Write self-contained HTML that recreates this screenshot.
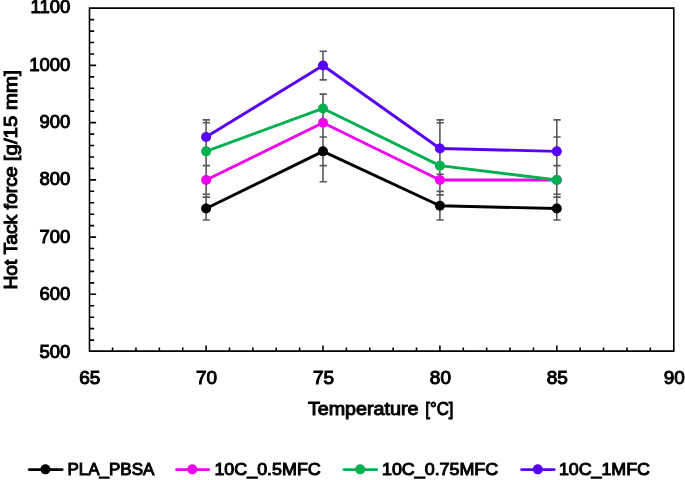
<!DOCTYPE html><html><head><meta charset="utf-8"><style>html,body{margin:0;padding:0;background:#fff;width:685px;height:480px;overflow:hidden}svg{display:block;will-change:transform}text{font-family:"Liberation Sans",sans-serif;font-weight:normal;fill:#000;stroke:#000;stroke-width:1.0px}</style></head><body>
<svg width="685" height="480" viewBox="0 0 685 480">
<rect width="685" height="480" fill="#fff"/>
<path d="M89.50 340.08H94.20M89.50 328.63H94.20M89.50 317.19H94.20M89.50 305.74H94.20M89.50 294.30H96.10M89.50 282.86H94.20M89.50 271.41H94.20M89.50 259.97H94.20M89.50 248.52H94.20M89.50 237.08H96.10M89.50 225.64H94.20M89.50 214.19H94.20M89.50 202.75H94.20M89.50 191.30H94.20M89.50 179.86H96.10M89.50 168.42H94.20M89.50 156.97H94.20M89.50 145.53H94.20M89.50 134.08H94.20M89.50 122.64H96.10M89.50 111.20H94.20M89.50 99.75H94.20M89.50 88.31H94.20M89.50 76.86H94.20M89.50 65.42H96.10M89.50 53.98H94.20M89.50 42.53H94.20M89.50 31.09H94.20M89.50 19.64H94.20M112.58 351.10V347.50M135.96 351.10V347.50M159.34 351.10V347.50M182.72 351.10V347.50M206.10 351.10V345.60M229.48 351.10V347.50M252.86 351.10V347.50M276.24 351.10V347.50M299.62 351.10V347.50M323.00 351.10V345.60M346.38 351.10V347.50M369.76 351.10V347.50M393.14 351.10V347.50M416.52 351.10V347.50M439.90 351.10V345.60M463.28 351.10V347.50M486.66 351.10V347.50M510.04 351.10V347.50M533.42 351.10V347.50M556.80 351.10V345.60M580.18 351.10V347.50M603.56 351.10V347.50M626.94 351.10V347.50M650.32 351.10V347.50" stroke="#000" stroke-width="1.6" fill="none"/>
<path d="M89.5 8.1H673.8V351.1H89.5Z" stroke="#000" stroke-width="1.6" fill="none" stroke-linejoin="miter"/>
<path d="M206.10 119.88V220.01M202.70 119.88H210.00M202.70 122.74H210.00M202.70 165.66H210.00M202.70 194.26H210.00M202.70 197.13H210.00M202.70 220.01H210.00M323.00 51.22V79.83M319.60 51.22H326.90M319.60 79.83H326.90M323.00 94.13V181.68M319.60 94.13H326.90M319.60 137.04H326.90M319.60 165.66H326.90M319.60 181.68H326.90M439.90 119.88V220.01M436.50 119.88H443.80M436.50 122.74H443.80M436.50 174.24H443.80M436.50 191.40H443.80M436.50 194.84H443.80M436.50 220.01H443.80M556.80 119.88V220.01M553.40 119.88H560.70M553.40 137.04H560.70M553.40 165.66H560.70M553.40 194.26H560.70M553.40 197.13H560.70M553.40 220.01H560.70" stroke="#595959" stroke-width="1.6" fill="none"/>
<polyline points="206.10,208.57 323.00,151.35 439.90,205.71 556.80,208.57" stroke="#000000" stroke-width="2.9" fill="none" stroke-linejoin="round"/>
<circle cx="206.10" cy="208.57" r="5.0" fill="#000000"/>
<circle cx="323.00" cy="151.35" r="5.0" fill="#000000"/>
<circle cx="439.90" cy="205.71" r="5.0" fill="#000000"/>
<circle cx="556.80" cy="208.57" r="5.0" fill="#000000"/>
<polyline points="206.10,179.96 323.00,122.74 439.90,179.96 556.80,179.96" stroke="#F000F0" stroke-width="2.9" fill="none" stroke-linejoin="round"/>
<circle cx="206.10" cy="179.96" r="5.0" fill="#F000F0"/>
<circle cx="323.00" cy="122.74" r="5.0" fill="#F000F0"/>
<circle cx="439.90" cy="179.96" r="5.0" fill="#F000F0"/>
<circle cx="556.80" cy="179.96" r="5.0" fill="#F000F0"/>
<polyline points="206.10,151.35 323.00,108.44 439.90,165.66 556.80,179.96" stroke="#00B050" stroke-width="2.9" fill="none" stroke-linejoin="round"/>
<circle cx="206.10" cy="151.35" r="5.0" fill="#00B050"/>
<circle cx="323.00" cy="108.44" r="5.0" fill="#00B050"/>
<circle cx="439.90" cy="165.66" r="5.0" fill="#00B050"/>
<circle cx="556.80" cy="179.96" r="5.0" fill="#00B050"/>
<polyline points="206.10,137.04 323.00,65.52 439.90,148.49 556.80,151.35" stroke="#5800F6" stroke-width="2.9" fill="none" stroke-linejoin="round"/>
<circle cx="206.10" cy="137.04" r="5.0" fill="#5800F6"/>
<circle cx="323.00" cy="65.52" r="5.0" fill="#5800F6"/>
<circle cx="439.90" cy="148.49" r="5.0" fill="#5800F6"/>
<circle cx="556.80" cy="151.35" r="5.0" fill="#5800F6"/>
<text x="70.4" y="357.82" font-size="18.5" text-anchor="end">500</text>
<text x="70.4" y="300.20" font-size="18.5" text-anchor="end">600</text>
<text x="70.4" y="243.18" font-size="18.5" text-anchor="end">700</text>
<text x="70.4" y="185.36" font-size="18.5" text-anchor="end">800</text>
<text x="70.4" y="128.44" font-size="18.5" text-anchor="end">900</text>
<text x="70.4" y="71.22" font-size="18.5" text-anchor="end">1000</text>
<text x="70.4" y="13.40" font-size="18.5" text-anchor="end">1100</text>
<text x="79.15" y="384.4" font-size="18.0" textLength="21.1" lengthAdjust="spacingAndGlyphs">65</text>
<text x="196.05" y="384.4" font-size="18.0" textLength="21.1" lengthAdjust="spacingAndGlyphs">70</text>
<text x="312.95" y="384.4" font-size="18.0" textLength="21.1" lengthAdjust="spacingAndGlyphs">75</text>
<text x="429.85" y="384.4" font-size="18.0" textLength="21.1" lengthAdjust="spacingAndGlyphs">80</text>
<text x="546.75" y="384.4" font-size="18.0" textLength="21.1" lengthAdjust="spacingAndGlyphs">85</text>
<text x="663.65" y="384.4" font-size="18.0" textLength="21.1" lengthAdjust="spacingAndGlyphs">90</text>
<text x="307.9" y="415.3" font-size="18.2" textLength="110.6" lengthAdjust="spacingAndGlyphs">Temperature</text>
<text x="425.3" y="415.3" font-size="18.2" textLength="28.2" lengthAdjust="spacingAndGlyphs">[°C]</text>
<g transform="translate(16.6,0) rotate(-90)">
<text x="-289.6" y="0" font-size="18.2" textLength="123.2" lengthAdjust="spacingAndGlyphs">Hot Tack force</text>
<text x="-161.2" y="0" font-size="18.2" textLength="91.0" lengthAdjust="spacingAndGlyphs">[g/15 mm]</text>
</g>
<path d="M29.30 469.6H62.10" stroke="#000000" stroke-width="2.9" stroke-linecap="round"/>
<circle cx="45.4" cy="469.35" r="5.0" fill="#000000"/>
<text x="67.5" y="475.0" font-size="16.8" textLength="86.8" lengthAdjust="spacingAndGlyphs">PLA_PBSA</text>
<path d="M176.60 469.6H208.70" stroke="#F000F0" stroke-width="2.9" stroke-linecap="round"/>
<circle cx="192.3" cy="469.35" r="5.0" fill="#F000F0"/>
<text x="214.4" y="475.0" font-size="16.8" textLength="106.4" lengthAdjust="spacingAndGlyphs">10C_0.5MFC</text>
<path d="M344.00 469.6H376.60" stroke="#00B050" stroke-width="2.9" stroke-linecap="round"/>
<circle cx="360.2" cy="469.35" r="5.0" fill="#00B050"/>
<text x="382" y="475.0" font-size="16.8" textLength="116.2" lengthAdjust="spacingAndGlyphs">10C_0.75MFC</text>
<path d="M521.70 469.6H554.20" stroke="#5800F6" stroke-width="2.9" stroke-linecap="round"/>
<circle cx="537.8" cy="469.35" r="5.0" fill="#5800F6"/>
<text x="558.9" y="475.0" font-size="16.8" textLength="91.0" lengthAdjust="spacingAndGlyphs">10C_1MFC</text>
</svg></body></html>
